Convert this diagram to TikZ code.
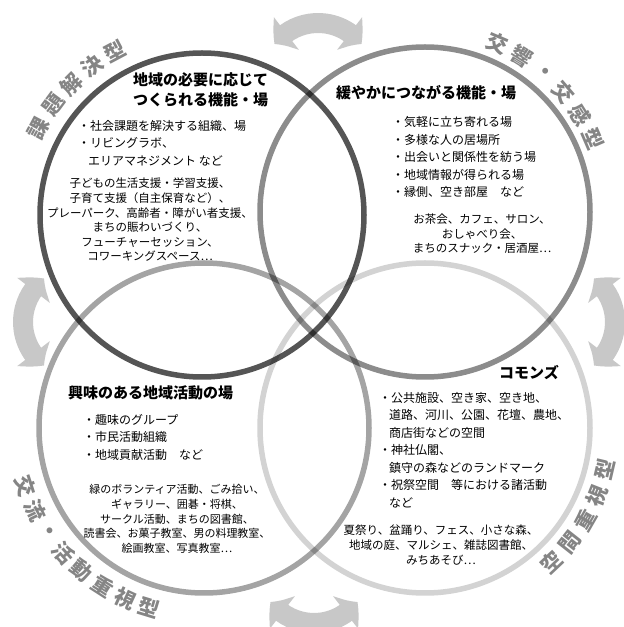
\documentclass[tikz,border=0pt]{standalone}
\usepackage{fontspec}
\setmainfont{Noto Sans CJK JP}
\usetikzlibrary{arrows.meta, bending}
\definecolor{tlgray}{HTML}{555555}
\definecolor{trgray}{HTML}{8C8C8C}
\definecolor{blgray}{HTML}{A4A4A4}
\definecolor{brgray}{HTML}{D3D3D3}
\definecolor{arrowgray}{HTML}{C8C8C8}
\definecolor{lblgray}{HTML}{858585}
\tikzset{ring/.style={draw=#1, circle, line width=5.5pt, minimum size=330pt, inner sep=0pt}}
\tikzset{swap/.style={draw=arrowgray, line width=20pt, {Triangle[bend,length=16pt,width=40pt]}-{Triangle[bend,length=16pt,width=40pt]}}}
\tikzset{ttl/.style={font=\fontsize{15}{20}\selectfont\bfseries, align=left, anchor=west, inner sep=0pt}}
\tikzset{blt/.style={font=\fontsize{12}{17.5}\selectfont, align=left, anchor=west, inner sep=0pt}}
\tikzset{exm/.style={font=\fontsize{11.5}{14.6}\selectfont, align=center, inner sep=0pt}}
\tikzset{arclbl/.style={font=\fontsize{21}{21}\selectfont\bfseries, text=lblgray, inner sep=0pt}}

\begin{document}
\begin{tikzpicture}[x=1pt, y=1pt]
    \useasboundingbox (0,0) rectangle (624,627);
    \clip (0,0) rectangle (624,627);

    % exchange arrows between the four rings
    \draw[swap] (318,549) ++(142:55) arc (142:38:55);
    \draw[swap] (560,305) ++(52:55) arc (52:-52:55);
    \draw[swap] (78,305) ++(128:55) arc (128:232:55);
    \draw[swap] (314,59) ++(218:55) arc (218:322:55);

    % the four rings
    \begin{scope}[blend group=multiply]
        \node[ring=tlgray, minimum size=324pt] (tl) at (202,412) {};
        \node[ring=trgray] (tr) at (425,415) {};
        \node[ring=blgray] (bl) at (204,199) {};
        \node[ring=brgray] (br) at (425,199) {};
    \end{scope}

    % ring labels
    \foreach \ch [count=\i from 0] in {課,題,解,決,型} {
        \pgfmathsetmacro\a{152-8.5*\i}
        \node[arclbl, rotate=\a-90] (tl-lbl-\i) at ([shift={(\a:185)}]tl.center) {\ch};
    }
    \foreach \ch [count=\i from 0] in {交,響,・,交,感,型} {
        \pgfmathsetmacro\a{66.9-8.7*\i}
        \node[arclbl, rotate=\a-90] (tr-lbl-\i) at ([shift={(\a:183)}]tr.center) {\ch};
    }
    \foreach \ch [count=\i from 0] in {交,流,・,活,動,重,視,型} {
        \pgfmathsetmacro\a{198+7.86*\i}
        \node[arclbl, rotate=\a+90] (bl-lbl-\i) at ([shift={(\a:188)}]bl.center) {\ch};
    }
    \foreach \ch [count=\i from 0] in {空,間,重,視,型} {
        \pgfmathsetmacro\a{-46.7+8.4*\i}
        \node[arclbl, rotate=\a+90] (br-lbl-\i) at ([shift={(\a:185)}]br.center) {\ch};
    }

    % top left
    \node[ttl] (tl-title) at (133,537) {地域の必要に応じて\\つくられる機能・場};
    \node[blt] (tl-list) at (78,484) {・社会課題を解決する組織、場\\・リビングラボ、\\\hspace{10pt}エリアマネジメント など};
    \node[exm] (tl-ex) at (150,407) {子どもの生活支援・学習支援、\\子育て支援（自主保育など）、\\プレーパーク、高齢者・障がい者支援、\\まちの賑わいづくり、\\フューチャーセッション、\\コワーキングスペース…};

    % top right
    \node[ttl] (tr-title) at (336,534) {緩やかにつながる機能・場};
    \node[blt] (tr-list) at (392,470) {・気軽に立ち寄れる場\\・多様な人の居場所\\・出会いと関係性を紡う場\\・地域情報が得られる場\\・縁側、空き部屋　など};
    \node[exm] (tr-ex) at (482,393) {お茶会、カフェ、サロン、\\おしゃべり会、\\まちのスナック・居酒屋…};

    % bottom left
    \node[ttl] (bl-title) at (68,234) {興味のある地域活動の場};
    \node[blt] (bl-list) at (83,190) {・趣味のグループ\\・市民活動組織\\・地域貢献活動　など};
    \node[exm, font=\fontsize{11}{14.6}\selectfont] (bl-ex) at (177,108) {緑のボランティア活動、ごみ拾い、\\ギャラリー、囲碁・将棋、\\サークル活動、まちの図書館、\\読書会、お菓子教室、男の料理教室、\\絵画教室、写真教室…};

    % bottom right
    \node[ttl] (br-title) at (499,254) {コモンズ};
    \node[blt] (br-list) at (379,177) {・公共施設、空き家、空き地、\\\hspace{10pt}道路、河川、公園、花壇、農地、\\\hspace{10pt}商店街などの空間\\・神社仏閣、\\\hspace{10pt}鎮守の森などのランドマーク\\・祝祭空間　等における諸活動\\\hspace{10pt}など};
    \node[exm] (br-ex) at (441,82) {夏祭り、盆踊り、フェス、小さな森、\\地域の庭、マルシェ、雑誌図書館、\\みちあそび…};
\end{tikzpicture}
\end{document}
